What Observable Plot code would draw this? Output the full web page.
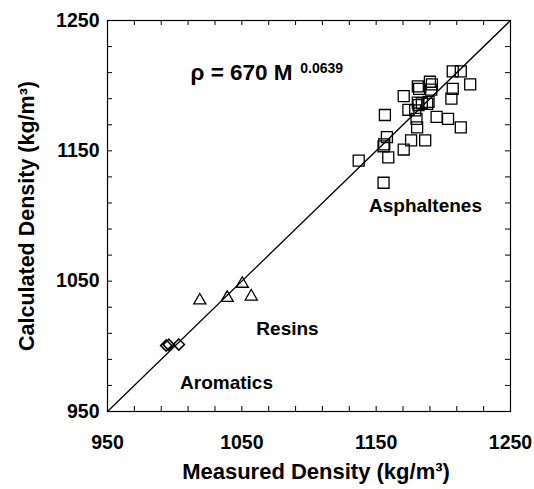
<!DOCTYPE html>
<html>
<head>
<meta charset="utf-8">
<script src="https://cdn.jsdelivr.net/npm/d3@7"></script>
<script src="https://cdn.jsdelivr.net/npm/@observablehq/plot@0.6"></script>
<style>
  html, body { margin: 0; padding: 0; background: white; }
  #chart { width: 534px; height: 489px; }
</style>
</head>
<body>
<div id="chart"></div>
<script>
// Asphaltenes (squares)
const asphMeasured   = [1207, 1213, 1220, 1190, 1191.5, 1191, 1181, 1182, 1207, 1170.5, 1206, 1181, 1184, 1188, 1189, 1181.5, 1174, 1179, 1195, 1203.5, 1213, 1180, 1180.5, 1156.5, 1176, 1186.5, 1158, 1155.5, 1156, 1170.5, 1159, 1137, 1155.5];
const asphCalculated = [1211, 1211, 1201, 1203, 1201, 1197, 1199.5, 1197.5, 1197.5, 1192, 1190, 1187, 1186.5, 1186, 1187.5, 1185, 1181.5, 1181, 1176, 1174.5, 1168, 1174.5, 1168, 1177.5, 1158, 1158, 1160.5, 1153.5, 1155, 1151, 1145, 1142.5, 1125.5];
// Resins (triangles)
const resMeasured   = [1018.7, 1039.1, 1050.3, 1057];
const resCalculated = [1035.2, 1037.2, 1048, 1038.2];
// Aromatics (diamonds)
const aroMeasured   = [993.7, 995.6, 1003.1];
const aroCalculated = [1000.6, 1001.2, 1001.4];
// 1:1 line
const parityLine = [950, 1250];
// ticks
const labelTicks = [950, 1050, 1150, 1250];
const minorTicks = d3.range(950, 1251, 20);

const toRows = (xs, ys) => xs.map((x, i) => ({x, y: ys[i]}));
const asph = toRows(asphMeasured, asphCalculated);
const res = toRows(resMeasured, resCalculated);
const aro = toRows(aroMeasured, aroCalculated);
const line = toRows(parityLine, parityLine);

const W = 534, H = 489, mL = 107, mR = 24, mT = 20, mB = 78;
const pw = W - mL - mR, ph = H - mT - mB;
const tickLen = 5;
const fmt = d => String(d);

const chart = Plot.plot({
  width: W, height: H,
  marginLeft: mL, marginRight: mR, marginTop: mT, marginBottom: mB,
  x: {domain: [950, 1250]},
  y: {domain: [950, 1250]},
  style: {fontFamily: "'Liberation Sans', Arial, sans-serif", background: "white", color: "black"},
  marks: [
    Plot.line(line, {x: "x", y: "y", stroke: "black", strokeWidth: 1.3}),
    // inward ticks on all four sides
    Plot.ruleX(minorTicks, {x: d => d, insetTop: ph - tickLen, stroke: "black", strokeWidth: 1}),
    Plot.ruleX(minorTicks, {x: d => d, insetBottom: ph - tickLen, stroke: "black", strokeWidth: 1}),
    Plot.ruleY(minorTicks, {y: d => d, insetRight: pw - tickLen, stroke: "black", strokeWidth: 1}),
    Plot.ruleY(minorTicks, {y: d => d, insetLeft: pw - tickLen, stroke: "black", strokeWidth: 1}),
    Plot.frame({stroke: "black", strokeWidth: 1.2}),
    Plot.axisX({ticks: labelTicks, tickSize: 0, tickPadding: 24, tickFormat: fmt, fontSize: 19.5, fontWeight: "bold", label: null}),
    Plot.axisY({ticks: labelTicks, tickSize: 0, tickPadding: 8, tickFormat: fmt, fontSize: 19.5, fontWeight: "bold", label: null}),
    Plot.dot(asph, {x: "x", y: "y", symbol: "square", r: 6.2, stroke: "black", strokeWidth: 1.3, fill: "none"}),
    Plot.dot(res, {x: "x", y: "y", symbol: "triangle", r: 4.5, stroke: "black", strokeWidth: 1.3, fill: "none"}),
    Plot.dot(aro, {x: "x", y: "y", symbol: "diamond2", r: 5, stroke: "black", strokeWidth: 1.6, fill: "none"}),
    // annotations
    Plot.text(["Asphaltenes"], {x: 1186.7, y: 1108, text: d => d, fontSize: 19, fontWeight: "bold", fill: "black"}),
    Plot.text(["Resins"], {x: 1084, y: 1013.7, text: d => d, fontSize: 19, fontWeight: "bold", fill: "black"}),
    Plot.text(["Aromatics"], {x: 1038.6, y: 972.2, text: d => d, fontSize: 19, fontWeight: "bold", fill: "black"}),
    Plot.text(["ρ = 670 M"], {x: 1011.8, y: 1204.3, text: d => d, textAnchor: "start", lineAnchor: "bottom", fontSize: 22.5, fontWeight: "bold", fill: "black"}),
    Plot.text(["0.0639"], {x: 1093.5, y: 1210, text: d => d, textAnchor: "start", lineAnchor: "bottom", fontSize: 14, fontWeight: "bold", fill: "black"}),
    // axis titles
    Plot.text(["Measured Density (kg/m³)"], {frameAnchor: "bottom", textAnchor: "middle", dx: 7, dy: 67, lineAnchor: "bottom", text: d => d, fontSize: 22, fontWeight: "bold", fill: "black"}),
    Plot.text(["Calculated Density (kg/m³)"], {frameAnchor: "left", textAnchor: "middle", dx: -80, rotate: -90, text: d => d, fontSize: 21.5, fontWeight: "bold", fill: "black"})
  ]
});
document.getElementById("chart").appendChild(chart);
</script>
</body>
</html>
